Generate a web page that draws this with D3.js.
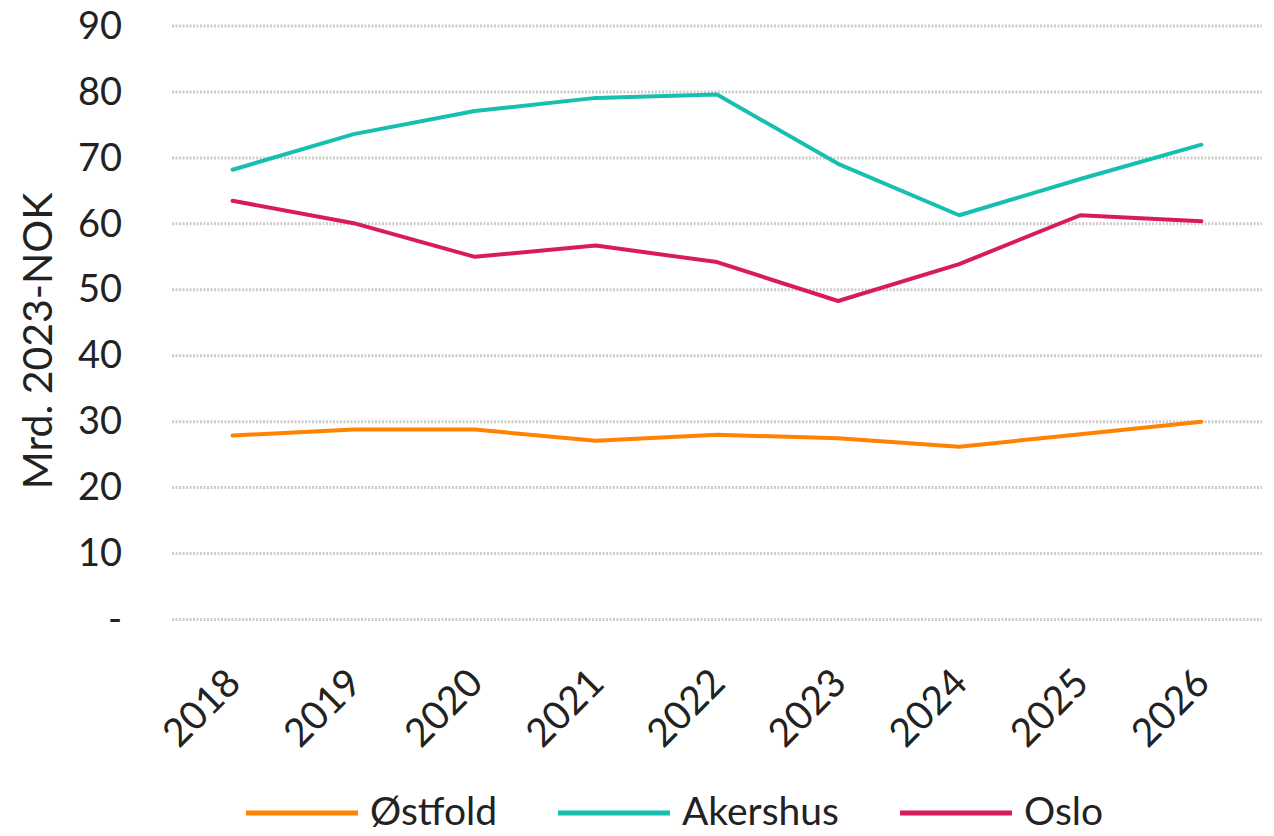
<!DOCTYPE html>
<html>
<head>
<meta charset="utf-8">
<script src="https://cdn.jsdelivr.net/npm/d3@7"></script>
<style>
  body { margin: 0; background: #fff; }
  svg { display: block; }
</style>
</head>
<body>
<script>
// chart data
var years = ["2018", "2019", "2020", "2021", "2022", "2023", "2024", "2025", "2026"]
var ostfold = [27.9, 28.8, 28.8, 27.1, 28.0, 27.5, 26.2, 28.1, 30.0]
var akershus = [68.2, 73.6, 77.1, 79.1, 79.6, 69.1, 61.3, 66.8, 72.0]
var oslo = [63.5, 60.1, 55.0, 56.7, 54.2, 48.3, 53.9, 61.3, 60.4]
var yTicks = [0, 10, 20, 30, 40, 50, 60, 70, 80, 90]
var seriesNames = ["Østfold", "Akershus", "Oslo"]

var width = 1274
var height = 836
var font = "Lato, 'Open Sans', sans-serif"

var series = [
  { name: seriesNames[0], values: ostfold, color: "#ff8200" },
  { name: seriesNames[1], values: akershus, color: "#17bfb0" },
  { name: seriesNames[2], values: oslo, color: "#d81b5c" }
]

var svg = d3.select("body")
  .append("svg")
    .attr("width", width)
    .attr("height", height)

var x = d3.scaleBand()
  .domain(years)
  .range([172, 1262])

var y = d3.scaleLinear()
  .domain([0, 90])
  .range([619.5, 26])

// gridlines
svg.append("g")
  .selectAll("line")
  .data(yTicks)
  .enter()
  .append("line")
    .attr("x1", 172)
    .attr("x2", 1262)
    .attr("y1", function(d){ return y(d) })
    .attr("y2", function(d){ return y(d) })
    .attr("stroke", "#cccccc")
    .attr("stroke-width", 3)
    .attr("stroke-dasharray", "2,1.5")

// y axis
var yAxis = svg.append("g")
  .attr("transform", "translate(122,0)")
  .call(d3.axisLeft(y).tickValues(yTicks).tickSize(0).tickPadding(0)
    .tickFormat(function(d){ return d === 0 ? "-" : d }))
yAxis.select(".domain").remove()
yAxis.selectAll("text")
  .attr("font-family", font)
  .attr("font-size", 38)
  .attr("fill", "#222")

svg.append("text")
  .attr("transform", "translate(52,341) rotate(-90)")
  .attr("text-anchor", "middle")
  .attr("font-family", font)
  .attr("font-size", 41)
  .attr("fill", "#222")
  .text("Mrd. 2023-NOK")

// x axis
var xAxis = svg.append("g")
  .attr("transform", "translate(0,640)")
  .call(d3.axisBottom(x).tickSize(0).tickPadding(0))
xAxis.select(".domain").remove()
xAxis.selectAll("text")
  .attr("font-family", font)
  .attr("font-size", 39)
  .attr("fill", "#222")
  .attr("text-anchor", "end")
  .attr("dy", "0.7em")
  .attr("transform", "translate(-9,26) rotate(-45)")

// lines
var line = d3.line()
  .x(function(d, i){ return x(years[i]) + x.bandwidth() / 2 })
  .y(function(d){ return y(d) })

svg.append("g")
  .selectAll("path")
  .data(series)
  .enter()
  .append("path")
    .attr("d", function(d){ return line(d.values) })
    .attr("fill", "none")
    .attr("stroke", function(d){ return d.color })
    .attr("stroke-width", 4)
    .attr("stroke-linejoin", "round")
    .attr("stroke-linecap", "round")

// legend
var legendX = [246, 558, 900]
var legend = svg.append("g")
  .selectAll("g")
  .data(series)
  .enter()
  .append("g")
    .attr("transform", function(d, i){ return "translate(" + legendX[i] + ",813)" })

legend.append("line")
  .attr("x1", 0)
  .attr("x2", 112)
  .attr("stroke", function(d){ return d.color })
  .attr("stroke-width", 5)

legend.append("text")
  .attr("x", 124)
  .attr("dy", "0.32em")
  .attr("font-family", font)
  .attr("font-size", 39)
  .attr("fill", "#222")
  .text(function(d){ return d.name })
</script>
</body>
</html>
